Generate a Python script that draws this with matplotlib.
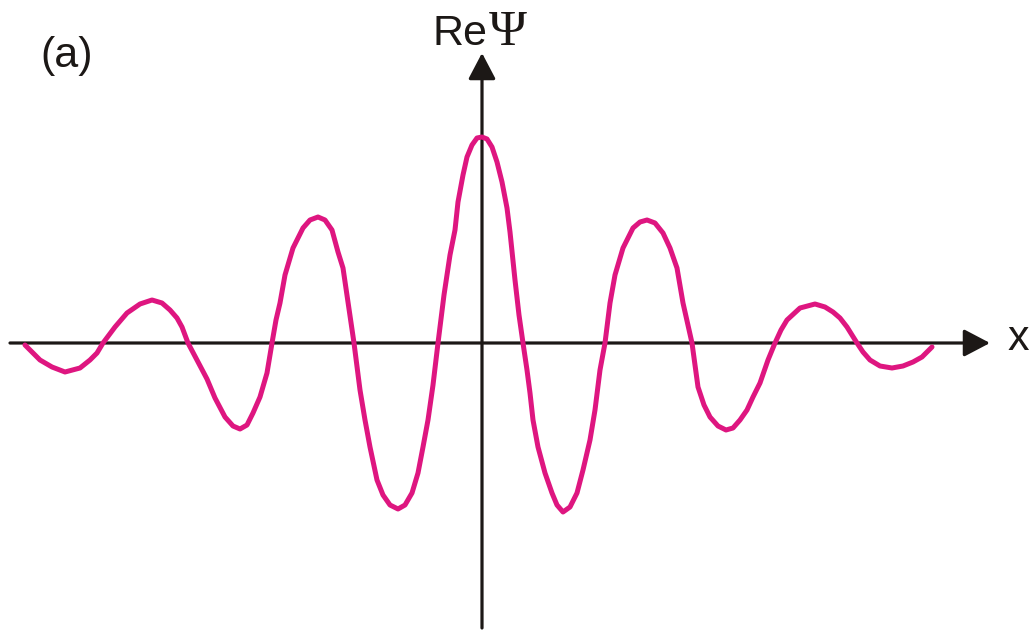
import matplotlib
matplotlib.use("Agg")
import matplotlib.pyplot as plt

# Sketched wave packet: sampled points along the curve (x, Re Psi), arbitrary units
x_pts = [-457, -442, -430, -417, -402, -392, -385, -379, -367, -355, -342, -330,
         -320, -312, -305, -300, -294, -285, -275, -267, -257, -249, -242, -235,
         -229, -222, -215, -210, -206, -202, -197, -189, -179, -172, -164, -157,
         -150, -144, -139, -134, -128, -122, -117, -112, -105, -99, -92, -84,
         -77, -70, -64, -59, -54, -49, -44, -38, -32, -27, -24, -19, -15, -10,
         -5, 0, 5, 10, 15, 20, 25, 28, 33, 37, 41, 45, 48, 51, 56, 63, 70, 75,
         81, 88, 95, 101, 108, 113, 118, 123, 128, 133, 141, 151, 158, 165, 173,
         181, 188, 195, 201, 206, 210, 216, 222, 228, 236, 244, 251, 258, 265,
         271, 278, 286, 293, 299, 305, 318, 333, 343, 351, 358, 365, 375, 381,
         388, 398, 410, 421, 431, 440, 450]
y_pts = [-2, -17, -24, -29, -25, -17, -10, 0, 16, 30, 39, 43,
         40, 33, 25, 16, 0, -17, -36, -55, -74, -83, -86, -82,
         -70, -54, -30, 0, 23, 40, 68, 95, 115, 123, 126, 123,
         113, 91, 75, 41, 0, -47, -77, -104, -137, -152, -162, -166,
         -162, -150, -130, -104, -77, -42, 0, 48, 88, 113, 141, 168, 186, 198,
         205, 206, 204, 196, 181, 161, 135, 111, 63, 28, 0, -27, -50, -77, -104,
         -130, -150, -162, -169, -164, -150, -127, -97, -67, -27, 0, 40, 68, 95,
         115, 121, 123, 120, 110, 95, 75, 40, 18, 0, -44, -62, -74, -83, -87,
         -85, -77, -67, -54, -40, -17, 0, 13, 23, 35, 39, 36, 31, 25, 16, 0, -9,
         -17, -23, -25, -23, -19, -14, -4]

x_axis_span = (-472, 508)
y_axis_span = (-285, 290)

curve_color = "#DE1680"
axis_color = "#1C1816"

fig = plt.figure(figsize=(10.32, 6.30), dpi=100)
ax = fig.add_axes([0, 0, 1, 1])
ax.set_xlim(-482, 550)
ax.set_ylim(-287, 343)
ax.axis("off")

arrow = dict(arrowstyle="-|>,head_length=0.8,head_width=0.42", lw=2.3,
             color=axis_color, mutation_scale=20, shrinkA=0, shrinkB=0)
ax.annotate("", xy=(x_axis_span[1], 0), xytext=(x_axis_span[0], 0), arrowprops=arrow)
ax.annotate("", xy=(0, y_axis_span[1]), xytext=(0, y_axis_span[0]), arrowprops=arrow)

ax.plot(x_pts, y_pts, color=curve_color, lw=3.6, solid_capstyle="round",
        solid_joinstyle="round", zorder=3)

sans = dict(family=["Liberation Sans", "DejaVu Sans"], color=axis_color, fontsize=31)
serif = dict(family=["Liberation Serif", "DejaVu Serif"], color=axis_color, fontsize=37)
ax.text(6, 298, "Re", ha="right", va="baseline", **sans)
ax.text(7, 298, "\u03a8", ha="left", va="baseline", **serif)
ax.text(536, -7, "x", ha="center", va="baseline", **sans)
ax.text(-415, 276, "(a)", ha="center", va="baseline", **sans)

fig.savefig("out.png", dpi=100)
